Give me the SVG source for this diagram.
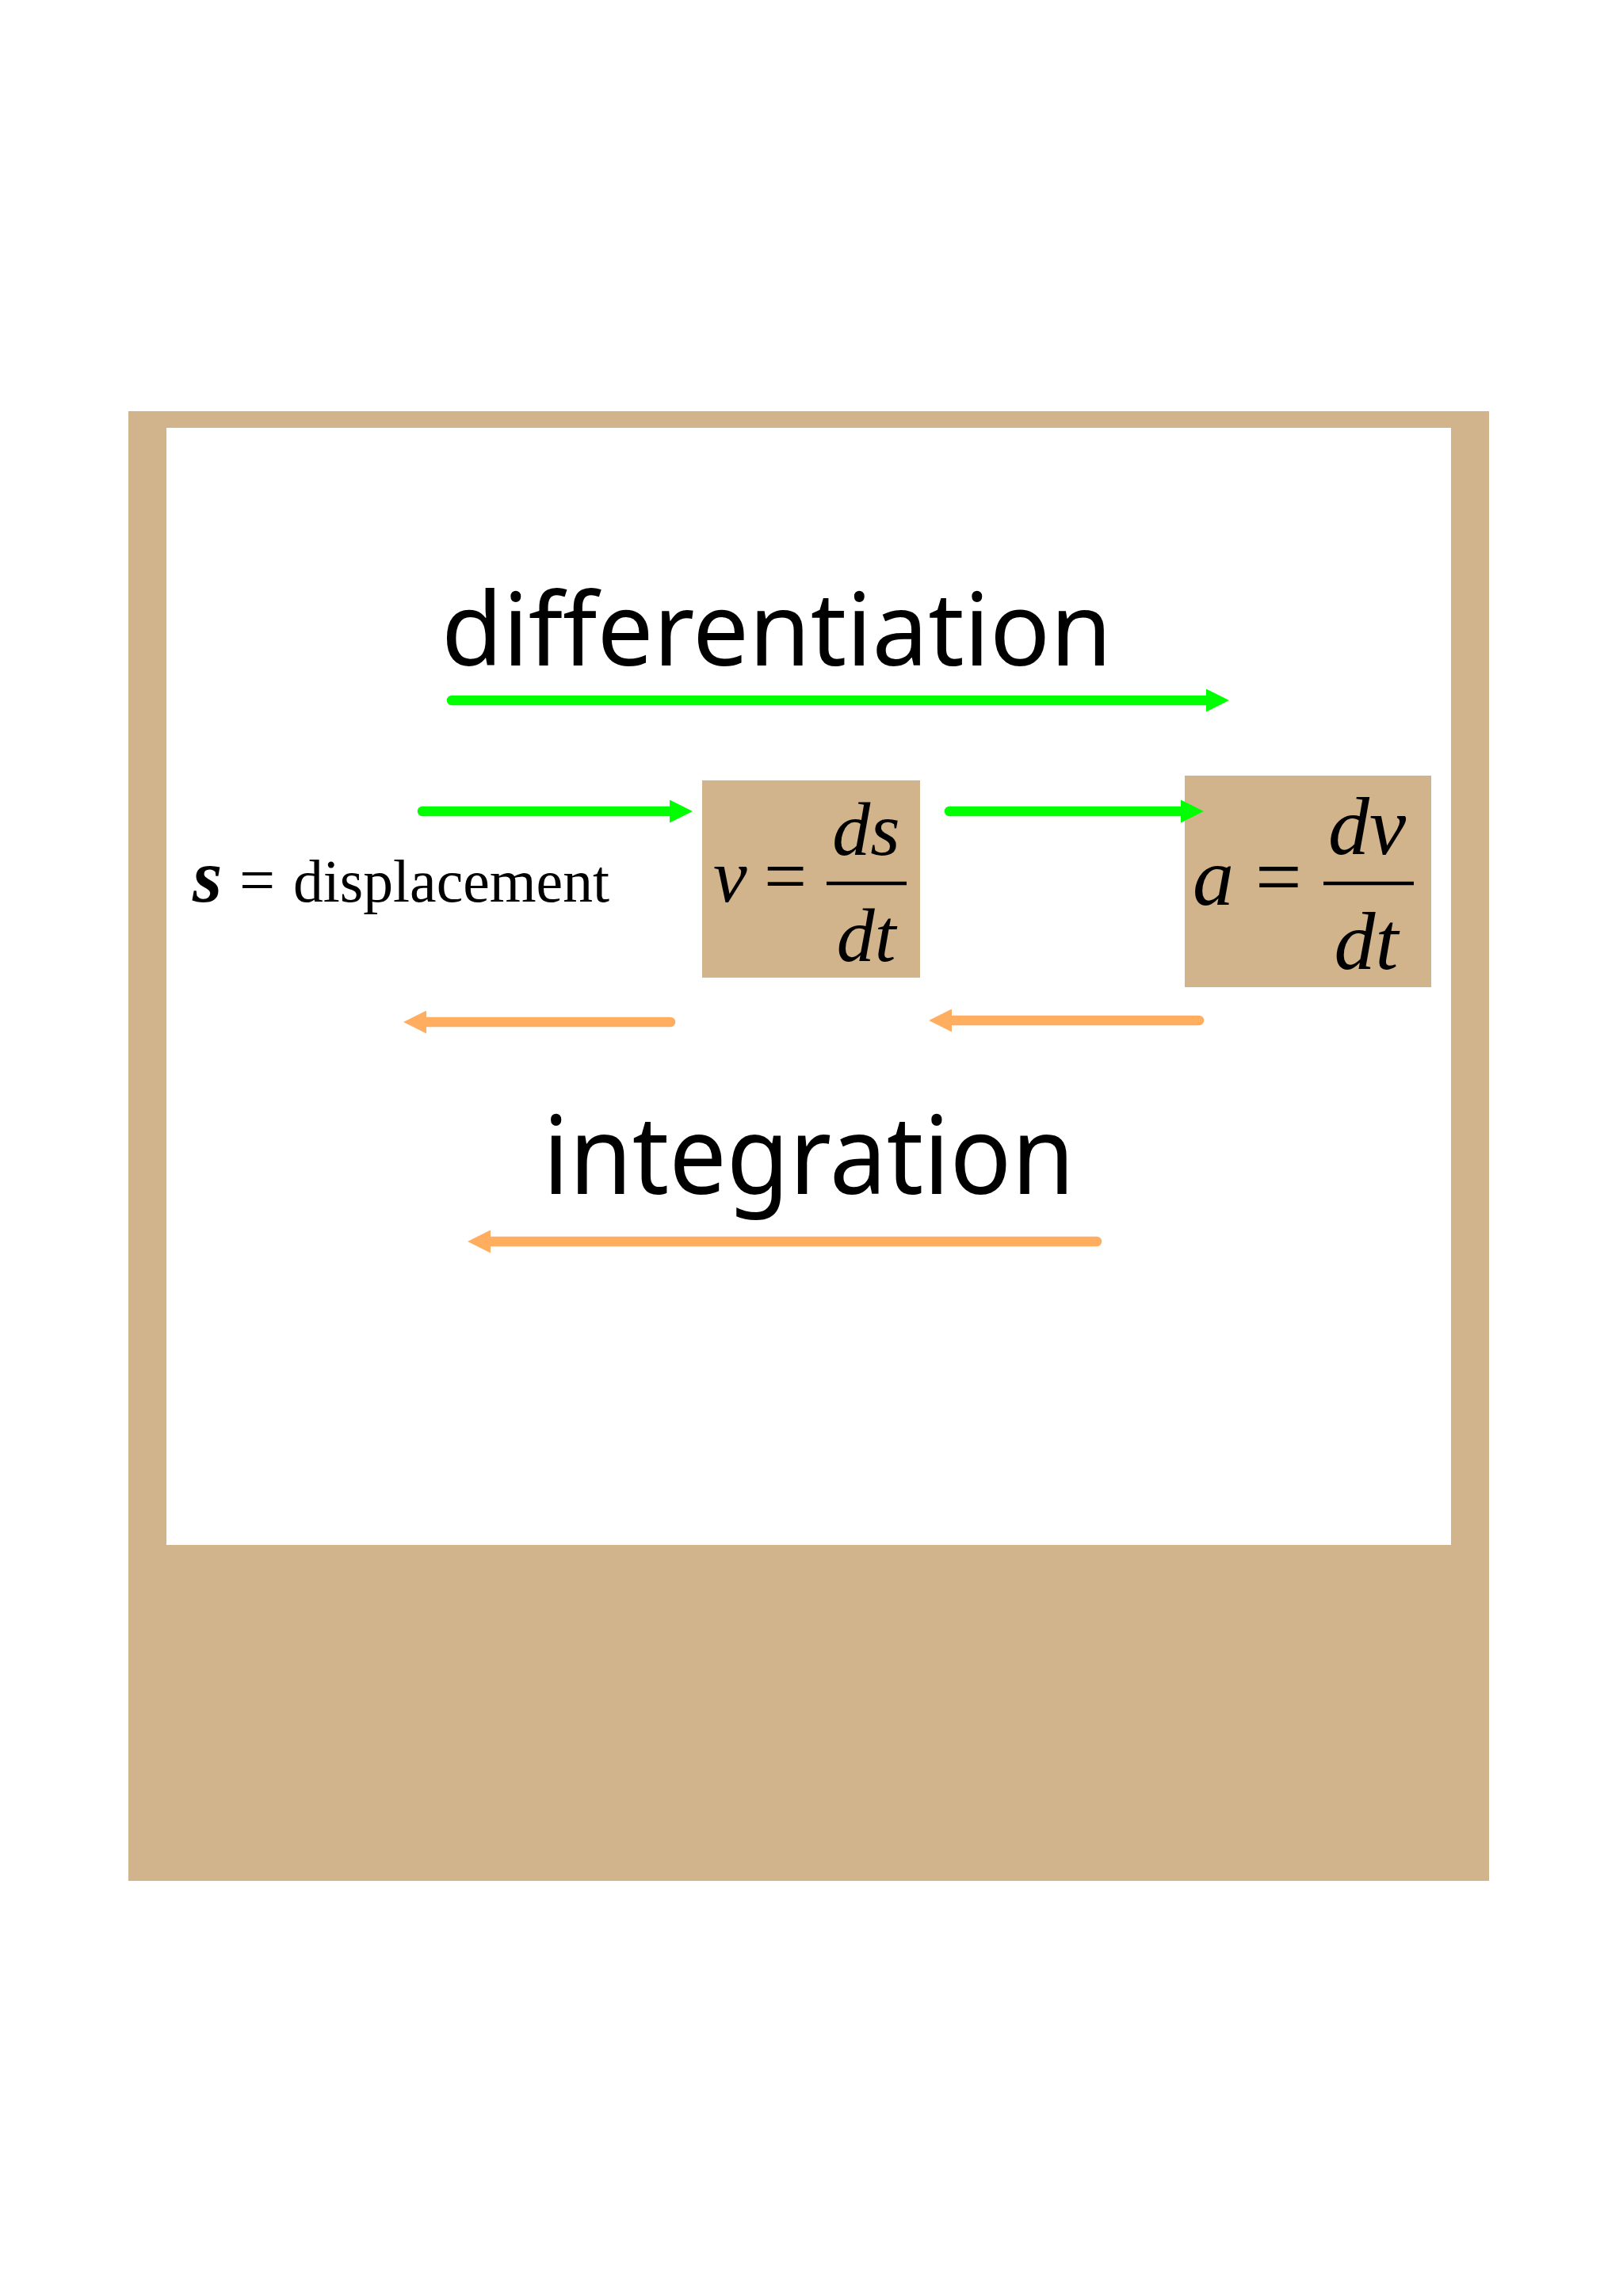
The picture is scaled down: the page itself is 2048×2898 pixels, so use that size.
<svg xmlns="http://www.w3.org/2000/svg" width="2048" height="2898" viewBox="0 0 2048 2898">
  <style>
    .tan { fill: #D2B48C; }
    .hand { font-family: "Comic Sans MS", "Noto Sans", "DejaVu Sans", sans-serif; fill: #000; }
    .math { font-family: "Liberation Serif", "Times New Roman", serif; fill: #000; }
    .it { font-style: italic; }
    .bar { stroke: #000; stroke-width: 4.5; }
    .diff { stroke: #00FF00; stroke-width: 12.5; stroke-linecap: round; fill: none; }
    .intg { stroke: #FFAE60; stroke-width: 12.5; stroke-linecap: round; fill: none; }
  </style>
  <defs>
    <marker id="headGreen" markerUnits="userSpaceOnUse" markerWidth="29" markerHeight="29" refX="0" refY="14.5" orient="auto">
      <path d="M0,0 L29,14.5 L0,29 Z" fill="#00FF00"/>
    </marker>
    <marker id="headOrange" markerUnits="userSpaceOnUse" markerWidth="29" markerHeight="29" refX="0" refY="14.5" orient="auto">
      <path d="M0,0 L29,14.5 L0,29 Z" fill="#FFAE60"/>
    </marker>
  </defs>

  <rect x="0" y="0" width="2048" height="2898" fill="#FFFFFF"/>

  <g id="frame">
    <rect class="tan" x="162" y="519" width="1717" height="1855"/>
    <rect x="210" y="540" width="1621" height="1410" fill="#FFFFFF"/>
  </g>

  <g id="label-differentiation">
    <text class="hand" x="557" y="840" font-size="128" textLength="846" lengthAdjust="spacingAndGlyphs">differentiation</text>
  </g>

  <g id="node-displacement">
    <text class="math" x="243" y="1138" font-size="96" font-weight="bold" font-style="italic">s</text>
    <text class="math" x="302" y="1138" font-size="80">=</text>
    <text class="math" x="370" y="1138" font-size="76" textLength="399" lengthAdjust="spacingAndGlyphs">displacement</text>
  </g>

  <g id="node-velocity">
    <rect class="tan" x="886" y="985" width="275" height="249"/>
    <text class="math it" x="900" y="1138" font-size="96">v</text>
    <text class="math" x="964" y="1138" font-size="96">=</text>
    <line class="bar" x1="1043" y1="1115" x2="1144" y2="1115"/>
    <text class="math it" x="1093" y="1079" font-size="96" text-anchor="middle">ds</text>
    <text class="math it" x="1093" y="1213" font-size="96" text-anchor="middle">dt</text>
  </g>

  <g id="node-acceleration">
    <rect class="tan" x="1495" y="979" width="311" height="267"/>
    <text class="math it" x="1505" y="1142" font-size="104">a</text>
    <text class="math" x="1584" y="1142" font-size="104">=</text>
    <line class="bar" x1="1670" y1="1115" x2="1784" y2="1115"/>
    <text class="math it" x="1725" y="1078" font-size="104" text-anchor="middle">dv</text>
    <text class="math it" x="1724" y="1223" font-size="104" text-anchor="middle">dt</text>
  </g>

  <g id="label-integration">
    <text class="hand" x="685" y="1507" font-size="138" textLength="671" lengthAdjust="spacingAndGlyphs">integration</text>
  </g>

  <g id="connectors">
    <line class="diff" x1="570" y1="884" x2="1522" y2="884" marker-end="url(#headGreen)"/>
    <line class="diff" x1="533" y1="1024" x2="845" y2="1024" marker-end="url(#headGreen)"/>
    <line class="diff" x1="1198" y1="1024" x2="1490" y2="1024" marker-end="url(#headGreen)"/>
    <line class="intg" x1="846" y1="1290" x2="538" y2="1290" marker-end="url(#headOrange)"/>
    <line class="intg" x1="1513" y1="1288" x2="1201" y2="1288" marker-end="url(#headOrange)"/>
    <line class="intg" x1="1384" y1="1567" x2="619" y2="1567" marker-end="url(#headOrange)"/>
  </g>
</svg>
